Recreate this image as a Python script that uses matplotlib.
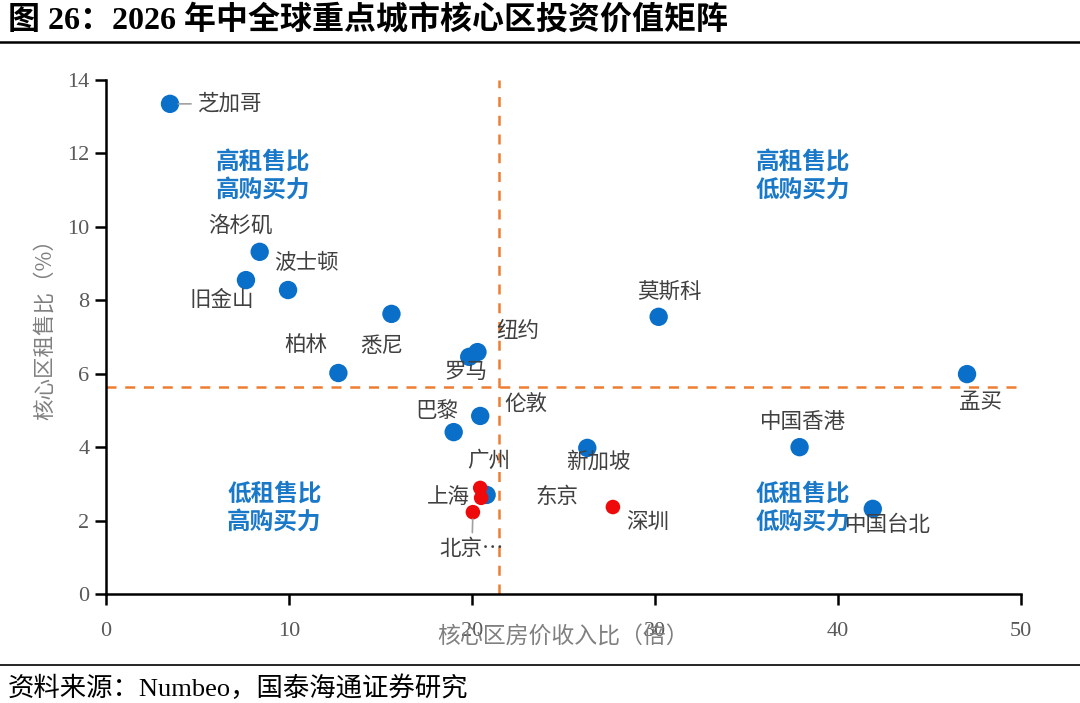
import matplotlib
matplotlib.use("Agg")
import matplotlib.pyplot as plt
from matplotlib.lines import Line2D

plt.rcParams['font.family'] = ['Noto Sans CJK SC', 'DejaVu Sans']

# ----------------------------------------
# Data
# ----------------------------------------
cities = ['芝加哥', '洛杉矶', '旧金山', '波士顿', '悉尼', '柏林', '罗马', '纽约',
          '伦敦', '巴黎', '新加坡', '东京', '莫斯科', '孟买', '中国香港', '中国台北',
          '广州', '上海', '北京…', '深圳']
price_income = [3.5, 8.4, 7.65, 9.95, 15.6, 12.7, 19.85, 20.3,
                20.45, 19.0, 26.3, 20.8, 30.2, 47.05, 37.9, 41.9,
                20.45, 20.5, 20.05, 27.7]
rent_ratio = [13.35, 9.32, 8.55, 8.28, 7.63, 6.02, 6.46, 6.59,
              4.85, 4.41, 3.98, 2.7, 7.55, 5.99, 4.0, 2.32,
              2.89, 2.62, 2.23, 2.37]
is_mainland = [False] * 16 + [True] * 4

x_split = 21.5
y_split = 5.64

quadrants = ['高租售比\n高购买力', '高租售比\n低购买力', '低租售比\n高购买力', '低租售比\n低购买力']

# label offsets in pixels (dx, dy) from each point
offsets = {
    '芝加哥': (28, 0), '洛杉矶': (-19, 26), '旧金山': (-24, -20), '波士顿': (18, 27),
    '悉尼': (-10, -32), '柏林': (-33, 28), '罗马': (-3, -15), '纽约': (40, 21),
    '伦敦': (46, 12), '巴黎': (-17, 21), '新加坡': (11, -14), '东京': (70, -2),
    '莫斯科': (11, 25), '孟买': (13, -28), '中国香港': (3, 25), '中国台北': (15, -16),
    '广州': (8, 27), '上海': (-33, 1), '北京…': (-1, -37), '深圳': (35, -15),
}

# ----------------------------------------
# Figure
# ----------------------------------------
fig = plt.figure(figsize=(10.8, 7.03), dpi=100)
ax = fig.add_axes([0.0981, 0.155, 0.8473, 0.7312])

blue = '#0a6fc9'
red = '#ee0a0a'
orange = '#ed7d31'
grey = '#595959'

ax.axvline(x_split, color=orange, linestyle=(0, (4, 3.5)), linewidth=1.8, zorder=1)
ax.plot([0, 49.7], [y_split, y_split], color=orange, linestyle=(0, (4, 3.5)),
        linewidth=1.8, zorder=1)

bx = [x for x, m in zip(price_income, is_mainland) if not m]
by = [y for y, m in zip(rent_ratio, is_mainland) if not m]
rx = [x for x, m in zip(price_income, is_mainland) if m]
ry = [y for y, m in zip(rent_ratio, is_mainland) if m]
ax.scatter(bx, by, s=175, color=blue, edgecolors='none', zorder=3)
ax.scatter(rx, ry, s=110, color=red, edgecolors='none', zorder=4)

for name, x, y in zip(cities, price_income, rent_ratio):
    dx, dy = offsets[name]
    if name == '芝加哥':
        ax.annotate(name, (x, y), xytext=(dx, dy), textcoords='offset pixels',
                    ha='left', va='center', fontsize=15.5, color='#404040',
                    arrowprops=dict(arrowstyle='-', color='#a0a0a0', lw=1.2,
                                    shrinkA=3, shrinkB=6), zorder=5)
    elif name == '北京…':
        ax.annotate(name, (x, y), xytext=(dx, dy), textcoords='offset pixels',
                    ha='center', va='center', fontsize=15.5, color='#404040',
                    arrowprops=dict(arrowstyle='-', color='#a0a0a0', lw=1.2,
                                    shrinkA=2, shrinkB=5), zorder=5)
    else:
        ax.annotate(name, (x, y), xytext=(dx, dy), textcoords='offset pixels',
                    ha='center', va='center', fontsize=15.5, color='#404040', zorder=5)

quad_pos = [(8.6, 11.4), (38.1, 11.4), (9.2, 2.35), (38.1, 2.35)]
for txt, (qx, qy) in zip(quadrants, quad_pos):
    ax.text(qx, qy, txt, ha='center', va='center', fontsize=17, color='#1a78c8',
            fontweight='bold', linespacing=1.2, zorder=2)

ax.set_xlim(0, 50)
ax.set_ylim(0, 14)
ax.set_xticks(range(0, 51, 10))
ax.set_yticks(range(0, 15, 2))
for side in ['top', 'right']:
    ax.spines[side].set_visible(False)
for side in ['left', 'bottom']:
    ax.spines[side].set_linewidth(1.8)
ax.tick_params(axis='both', direction='out', length=8, width=1.8, colors='black',
               labelcolor=grey, labelsize=16)
ax.tick_params(axis='x', pad=12)
ax.tick_params(axis='y', pad=4)
for lab in ax.get_xticklabels() + ax.get_yticklabels():
    lab.set_family(['Liberation Serif'])

fig.text(0.5213, 1 - 637 / 703, '核心区房价收入比（倍）', ha='center', va='center',
         fontsize=16.5, color='#808080')
fig.text(45 / 1080, 1 - 324 / 703, '核心区租售比（%）', ha='center', va='center',
         fontsize=15.5, color='#808080', rotation=90)

# title, rules and source
fig.text(8 / 1080, 1 - 20 / 703, '图 26：2026 年中全球重点城市核心区投资价值矩阵',
         ha='left', va='center', fontsize=23, fontweight='bold', color='black',
         family=['Liberation Serif', 'Noto Sans CJK SC'])
fig.add_artist(Line2D([0, 1], [1 - 42 / 703, 1 - 42 / 703], color='black', lw=1.8,
                      transform=fig.transFigure))
fig.add_artist(Line2D([0, 1], [1 - 665 / 703, 1 - 665 / 703], color='black', lw=1.2,
                      transform=fig.transFigure))
fig.text(8 / 1080, 1 - 688 / 703, '资料来源：Numbeo，国泰海通证券研究',
         ha='left', va='center', fontsize=19, color='black',
         family=['Liberation Serif', 'Noto Sans CJK SC'])

fig.savefig('out.png', dpi=100)
